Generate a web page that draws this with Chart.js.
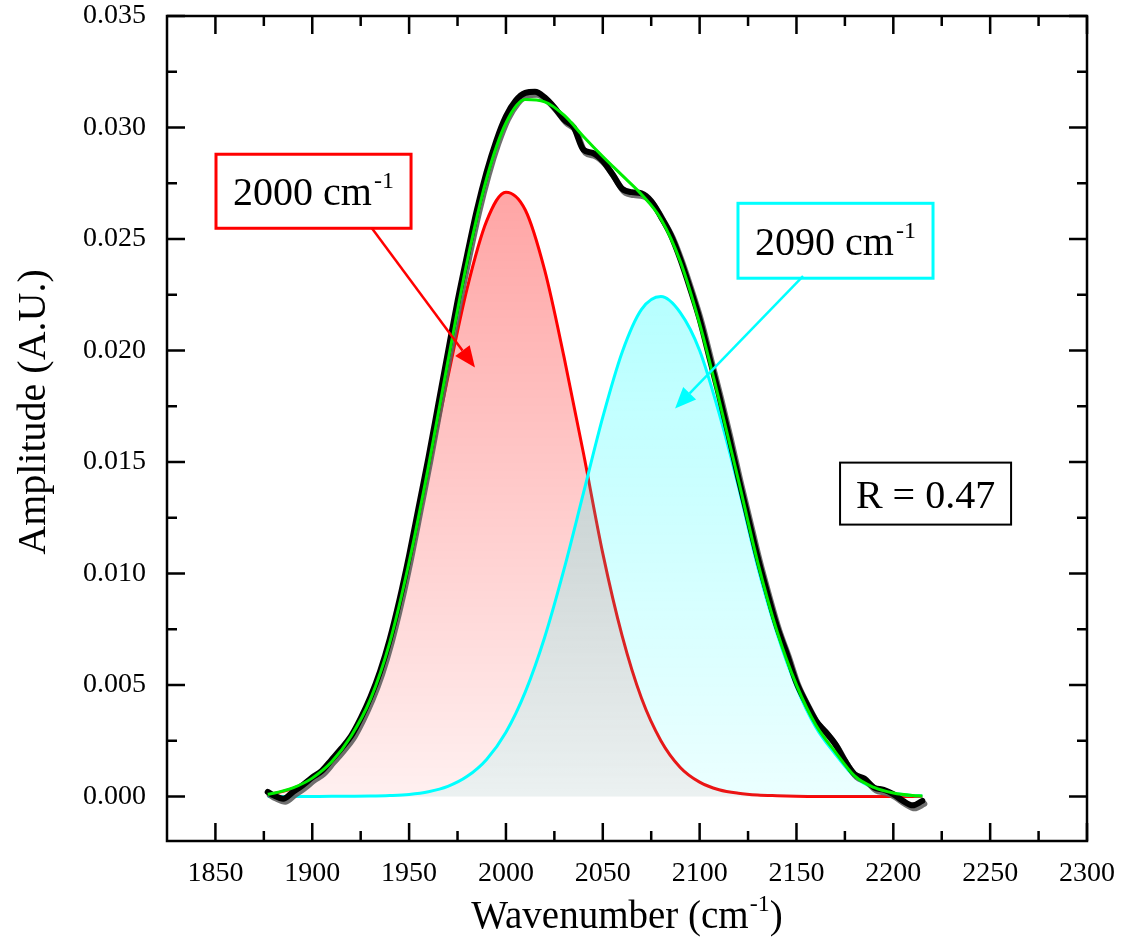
<!DOCTYPE html>
<html>
<head>
<meta charset="utf-8">
<title>Amplitude fit</title>
<script src="https://cdn.jsdelivr.net/npm/chart.js@4.4.1/dist/chart.umd.min.js"></script>
<style>
  body { margin: 0; background: #fff; font-family: "Liberation Serif"; }
  #wrap { position: relative; width: 1126px; height: 938px; }
  #warm { position: absolute; left: 2px; top: 2px; color: #fff; font-size: 28px; font-family: "Liberation Serif"; }
  #fitChart { position: relative; }
</style>
</head>
<body>
<div id="wrap">
  <span id="warm">0.035 Wavenumber Amplitude</span>
  <canvas id="fitChart"></canvas>
</div>
<script>
// --- tick labels ---
const xTicks = [1850, 1900, 1950, 2000, 2050, 2100, 2150, 2200, 2250, 2300];
const xMinorTicks = [1875, 1925, 1975, 2025, 2075, 2125, 2175, 2225, 2275];
const yTicks = [0, 0.005, 0.010, 0.015, 0.020, 0.025, 0.030, 0.035];
const yMinorTicks = [0.0025, 0.0075, 0.0125, 0.0175, 0.0225, 0.0275, 0.0325];

// --- fitted curves ---
const fitX = [1877, 1880, 1890, 1900, 1910, 1920, 1930, 1940, 1950, 1960, 1970, 1980,
              1990, 2000, 2010, 2020, 2030, 2040, 2050, 2060, 2070, 2080, 2090, 2100,
              2110, 2120, 2130, 2140, 2150, 2160, 2170, 2180, 2190, 2200, 2210, 2215];
const peak2000 = [0.00009, 0.00013, 0.00036, 0.00079, 0.00152, 0.00265, 0.00428, 0.00680, 0.01035, 0.01460, 0.01880, 0.02280,
                  0.02580, 0.02710, 0.02630, 0.02360, 0.01970, 0.01540, 0.01090, 0.00720, 0.00440, 0.00250, 0.00130, 0.00064,
                  0.00030, 0.00014, 0.00006, 0.00003, 0.00001, 0, 0, 0, 0, 0, 0, 0];
const peak2090 = [0, 0, 0, 0.000001, 0.000002, 0.000006, 0.000015, 0.00004, 0.00009, 0.00021, 0.00045, 0.00090,
                  0.00166, 0.00288, 0.00469, 0.00714, 0.01019, 0.01360, 0.01701, 0.01992, 0.02184, 0.02242, 0.02170, 0.02000,
                  0.01720, 0.01390, 0.01030, 0.00730, 0.00490, 0.00310, 0.00190, 0.00088, 0.00038, 0.00014, 0.00004, 0.00002];
const fitSum = [0.00010, 0.00014, 0.00038, 0.00082, 0.00155, 0.00270, 0.00435, 0.00690, 0.01050, 0.01480, 0.01950, 0.02400,
                0.02770, 0.03020, 0.03125, 0.03115, 0.03055, 0.02960, 0.02870, 0.02785, 0.02700, 0.02590, 0.02400, 0.02120,
                0.01780, 0.01420, 0.01050, 0.00740, 0.00500, 0.00320, 0.00200, 0.00092, 0.00040, 0.00015, 0.00004, 0.00002];

// --- measured spectrum ---
const dataX = [1877, 1880, 1885, 1890, 1895, 1900, 1905, 1910, 1915, 1920, 1925, 1930, 1935, 1940, 1945, 1950,
               1955, 1960, 1965, 1970, 1975, 1980, 1985, 1990, 1995, 2000, 2005, 2010, 2015, 2020, 2025, 2030,
               2035, 2040, 2045, 2050, 2055, 2060, 2065, 2070, 2075, 2080, 2085, 2090, 2095, 2100, 2105, 2110,
               2115, 2120, 2125, 2130, 2135, 2140, 2145, 2150, 2155, 2160, 2165, 2170, 2175, 2180, 2185, 2190,
               2195, 2200, 2205, 2210, 2215];
const measured = [0.00020, 0.00005, -0.00010, 0.00020, 0.00050, 0.00085, 0.00115, 0.00165, 0.00215, 0.00270, 0.00350, 0.00445,
                  0.00560, 0.00705, 0.00880, 0.01080, 0.01300, 0.01520, 0.01755, 0.01990, 0.02220, 0.02430, 0.02630, 0.02800,
                  0.02940, 0.03050, 0.03120, 0.03155, 0.03160, 0.03135, 0.03090, 0.03035, 0.03000, 0.02900, 0.02885, 0.02850,
                  0.02790, 0.02725, 0.02710, 0.02705, 0.02670, 0.02600, 0.02520, 0.02410, 0.02280, 0.02140, 0.01970, 0.01800,
                  0.01620, 0.01430, 0.01250, 0.01070, 0.00910, 0.00760, 0.00640, 0.00510, 0.00420, 0.00340, 0.00290, 0.00235,
                  0.00160, 0.00100, 0.00080, 0.00040, 0.00030, 0.00010, -0.00020, -0.00040, -0.00020];

// annotations, placed in data units
const notes = [
    { text: '2000 cm', sup: '-1', color: '#ff0000', box: [1850.3, 0.0288, 1951.0, 0.02548],
      from: [1930.8, 0.02548], to: [1984.0, 0.01924] },
    { text: '2090 cm', sup: '-1', color: '#00ffff', box: [2119.8, 0.0266, 2220.5, 0.02324],
      from: [2153.4, 0.02333], to: [2087.3, 0.0174] },
    { text: 'R = 0.47', sup: '', color: '#000000', box: [2172.5, 0.01497, 2260.8, 0.01219] }
];

const SERIF = '"Liberation Serif"';
const pts = (xs, ys) => xs.map((v, i) => ({ x: v, y: ys[i] }));

// vertical gradient from the top of the plot down to the zero line
function fade(rgb, aTop, aBottom) {
    return (c) => {
        const chart = c.chart;
        const area = chart.chartArea;
        if (!area) return `rgba(${rgb},${aBottom})`;
        const y0 = chart.scales.y.getPixelForValue(0);
        const g = chart.ctx.createLinearGradient(0, area.top, 0, y0);
        g.addColorStop(0, `rgba(${rgb},${aTop})`);
        g.addColorStop(1, `rgba(${rgb},${aBottom})`);
        return g;
    };
}

function textWithSup(ctx, cx, baseY, text, sup, size) {
    ctx.font = `${size}px ${SERIF}`;
    const w1 = ctx.measureText(text).width;
    ctx.font = `${Math.round(size * 0.6)}px ${SERIF}`;
    const w2 = sup ? ctx.measureText(sup).width + 2 : 0;
    const x0 = cx - (w1 + w2) / 2;
    ctx.textAlign = 'left';
    ctx.textBaseline = 'alphabetic';
    ctx.font = `${size}px ${SERIF}`;
    ctx.fillText(text, x0, baseY);
    if (sup) {
        ctx.font = `${Math.round(size * 0.6)}px ${SERIF}`;
        ctx.fillText(sup, x0 + w1 + 2, baseY - size * 0.42);
    }
}

// thin grey shadow under the measured trace
const shadow = {
    id: 'shadow',
    beforeDatasetDraw(chart, args) {
        if (chart.data.datasets[args.index].label !== 'Measured') return;
        const ctx = chart.ctx;
        ctx.save();
        ctx.shadowColor = 'rgba(95,95,95,0.9)';
        ctx.shadowOffsetX = 2;
        ctx.shadowOffsetY = 3;
    },
    afterDatasetDraw(chart, args) {
        if (chart.data.datasets[args.index].label !== 'Measured') return;
        chart.ctx.restore();
    }
};

// box frame, inward ticks, titles and annotations
const frame = {
    id: 'frame',
    afterDraw(chart) {
        const { ctx, chartArea: a, scales: { x, y } } = chart;
        ctx.save();
        ctx.strokeStyle = '#000';
        ctx.lineWidth = 2.5;
        ctx.strokeRect(a.left, a.top, a.right - a.left, a.bottom - a.top);

        ctx.beginPath();
        const xt = (v, len) => {
            const px = x.getPixelForValue(v);
            ctx.moveTo(px, a.bottom); ctx.lineTo(px, a.bottom - len);
            ctx.moveTo(px, a.top); ctx.lineTo(px, a.top + len);
        };
        const yt = (v, len) => {
            const py = y.getPixelForValue(v);
            ctx.moveTo(a.left, py); ctx.lineTo(a.left + len, py);
            ctx.moveTo(a.right, py); ctx.lineTo(a.right - len, py);
        };
        xTicks.forEach(v => xt(v, 18));
        xMinorTicks.forEach(v => xt(v, 10));
        yTicks.forEach(v => yt(v, 18));
        yMinorTicks.forEach(v => yt(v, 10));
        ctx.stroke();

        // axis titles
        ctx.fillStyle = '#000';
        ctx.font = `39px ${SERIF}`;
        const t1 = 'Wavenumber (cm';
        const w1 = ctx.measureText(t1).width;
        ctx.font = `24px ${SERIF}`;
        const w2 = ctx.measureText('-1').width + 1;
        ctx.font = `39px ${SERIF}`;
        const w3 = ctx.measureText(')').width;
        const cx = (a.left + a.right) / 2;
        const x0 = cx - (w1 + w2 + w3) / 2;
        ctx.textAlign = 'left';
        ctx.textBaseline = 'alphabetic';
        ctx.fillText(t1, x0, 928);
        ctx.font = `24px ${SERIF}`;
        ctx.fillText('-1', x0 + w1 + 1, 911);
        ctx.font = `39px ${SERIF}`;
        ctx.fillText(')', x0 + w1 + w2, 928);

        ctx.save();
        ctx.translate(45, 412);
        ctx.rotate(-Math.PI / 2);
        ctx.textAlign = 'center';
        ctx.font = `40px ${SERIF}`;
        ctx.fillText('Amplitude (A.U.)', 0, 0);
        ctx.restore();

        // annotation boxes and arrows
        notes.forEach(n => {
            const l = x.getPixelForValue(n.box[0]), t = y.getPixelForValue(n.box[1]);
            const r = x.getPixelForValue(n.box[2]), b = y.getPixelForValue(n.box[3]);
            ctx.fillStyle = '#fff';
            ctx.fillRect(l, t, r - l, b - t);
            ctx.strokeStyle = n.color;
            ctx.lineWidth = n.sup ? 3 : 2;
            ctx.strokeRect(l, t, r - l, b - t);
            ctx.fillStyle = '#000';
            textWithSup(ctx, (l + r) / 2, (t + b) / 2 + 14, n.text, n.sup, 40);

            if (n.from) {
                const fx = x.getPixelForValue(n.from[0]), fy = y.getPixelForValue(n.from[1]);
                const tx = x.getPixelForValue(n.to[0]), ty = y.getPixelForValue(n.to[1]);
                const ang = Math.atan2(ty - fy, tx - fx);
                const hl = 21, hw = 9;
                const bx = tx - hl * Math.cos(ang), by = ty - hl * Math.sin(ang);
                ctx.strokeStyle = n.color;
                ctx.lineWidth = 2.5;
                ctx.beginPath();
                ctx.moveTo(fx, fy);
                ctx.lineTo(bx, by);
                ctx.stroke();
                ctx.fillStyle = n.color;
                ctx.beginPath();
                ctx.moveTo(tx, ty);
                ctx.lineTo(bx + hw * Math.sin(ang), by - hw * Math.cos(ang));
                ctx.lineTo(bx - hw * Math.sin(ang), by + hw * Math.cos(ang));
                ctx.closePath();
                ctx.fill();
            }
        });
        ctx.restore();
    }
};

function drawChart() {
    const ctx = document.getElementById('fitChart').getContext('2d');
    new Chart(ctx, {
        type: 'line',
        data: {
            datasets: [
                {
                    label: 'Fit sum',
                    data: pts(fitX, fitSum),
                    borderColor: '#00ee00',
                    borderWidth: 3,
                    pointRadius: 0,
                    fill: false,
                    cubicInterpolationMode: 'monotone',
                    order: 0
                },
                {
                    label: 'Measured',
                    data: pts(dataX, measured),
                    borderColor: '#000000',
                    borderWidth: 6,
                    borderCapStyle: 'round',
                    borderJoinStyle: 'round',
                    pointRadius: 0,
                    fill: false,
                    cubicInterpolationMode: 'monotone',
                    order: 1
                },
                {
                    label: '2090 cm-1',
                    data: pts(fitX, peak2090),
                    borderColor: '#00ffff',
                    borderWidth: 3,
                    pointRadius: 0,
                    fill: 'origin',
                    backgroundColor: fade('0,255,255', 0.40, 0.08),
                    cubicInterpolationMode: 'monotone',
                    order: 2
                },
                {
                    label: '2000 cm-1',
                    data: pts(fitX, peak2000),
                    borderColor: '#ff0000',
                    borderWidth: 3,
                    pointRadius: 0,
                    fill: 'origin',
                    backgroundColor: fade('255,0,0', 0.44, 0.06),
                    cubicInterpolationMode: 'monotone',
                    order: 3
                }
            ]
        },
        options: {
            responsive: true,
            maintainAspectRatio: false,
            animation: false,
            layout: { padding: { left: 0, right: 39, top: 16, bottom: 0 } },
            scales: {
                x: {
                    type: 'linear',
                    min: 1825,
                    max: 2300,
                    afterBuildTicks: s => { s.ticks = xTicks.map(v => ({ value: v })); },
                    afterFit: s => { s.height = 97; s.paddingLeft = 0; s.paddingRight = 0; },
                    grid: { display: false, drawTicks: false },
                    border: { display: false },
                    ticks: {
                        autoSkip: false,
                        maxRotation: 0,
                        padding: 16,
                        color: '#000',
                        font: { family: SERIF, size: 28 },
                        callback: v => String(v)
                    }
                },
                y: {
                    min: -0.002,
                    max: 0.035,
                    afterBuildTicks: s => { s.ticks = yTicks.map(v => ({ value: v })); },
                    afterFit: s => { s.width = 167; s.paddingTop = 0; s.paddingBottom = 0; },
                    grid: { display: false, drawTicks: false },
                    border: { display: false },
                    ticks: {
                        autoSkip: false,
                        padding: 21,
                        color: '#000',
                        font: { family: SERIF, size: 28 },
                        callback: v => v.toFixed(3)
                    }
                }
            },
            plugins: {
                legend: { display: false },
                tooltip: { enabled: false }
            }
        },
        plugins: [shadow, frame]
    });
}

window.addEventListener('load', () => {
    document.fonts.ready.then(() => requestAnimationFrame(drawChart));
});
</script>
</body>
</html>
